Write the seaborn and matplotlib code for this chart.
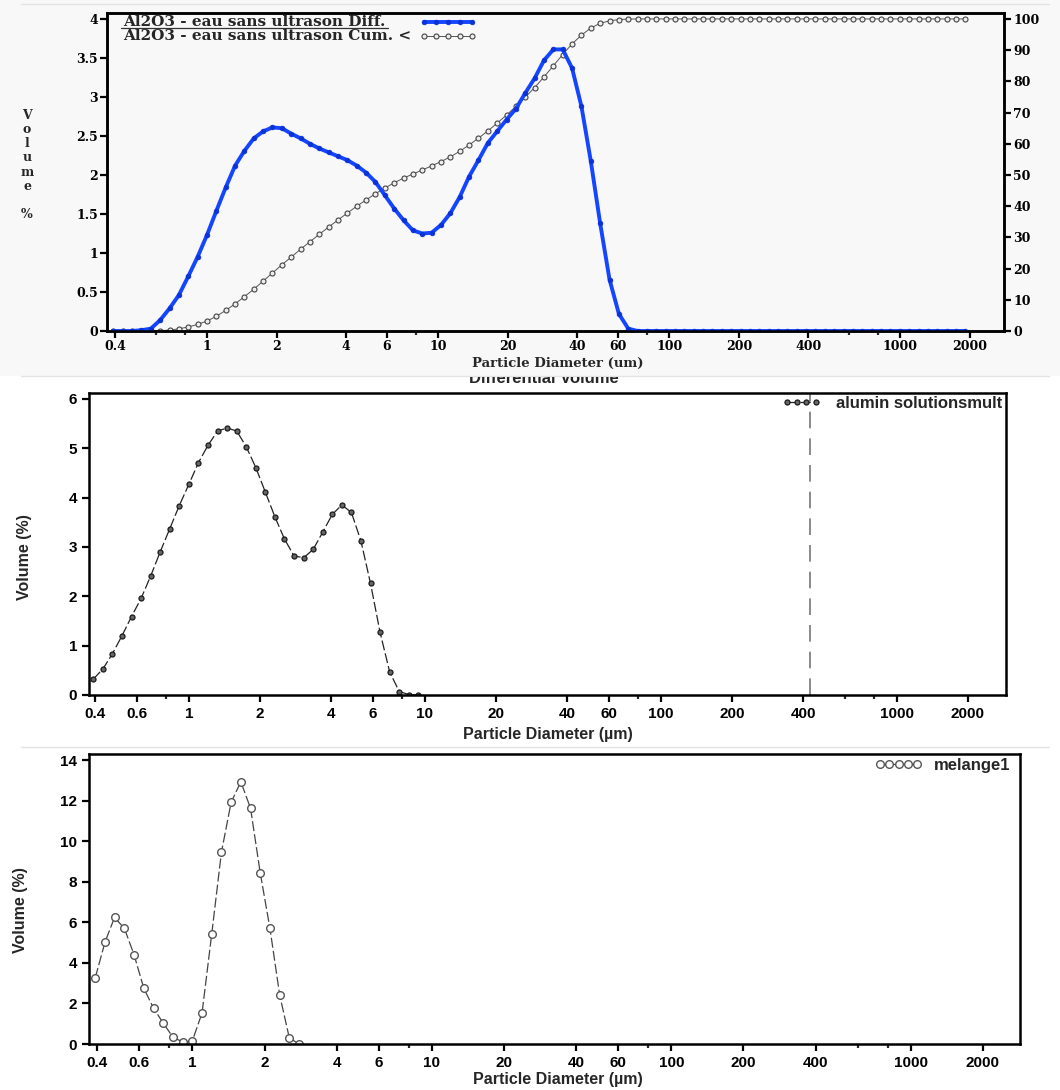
import matplotlib
matplotlib.use("Agg")
import matplotlib.pyplot as plt
import seaborn as sns
from matplotlib.ticker import FixedLocator, FixedFormatter, NullFormatter
from matplotlib.lines import Line2D
from matplotlib.patches import Rectangle
from matplotlib.transforms import Bbox, TransformedBbox

# channel centre diameters (um)
diameter = [0.393, 0.432, 0.473, 0.520, 0.571, 0.627, 0.688, 0.755, 0.829, 0.910,
            0.999, 1.097, 1.204, 1.322, 1.451, 1.593, 1.749, 1.919, 2.107, 2.313,
            2.539, 2.787, 3.060, 3.359, 3.687, 4.048, 4.444, 4.878, 5.355, 5.879,
            6.453, 7.084, 7.777, 8.537, 9.371, 10.29, 11.29, 12.40, 13.61, 14.94,
            16.40, 18.00, 19.76, 21.70, 23.81, 26.14, 28.70, 31.51, 34.59, 37.97,
            41.68, 45.75, 50.23, 55.14, 60.53, 66.45, 72.95, 80.08, 87.90, 96.50,
            105.9, 116.3, 127.6, 140.1, 153.8, 168.9, 185.3, 203.5, 223.4, 245.2,
            269.2, 295.5, 324.4, 356.1, 390.9, 429.2, 471.1, 517.2, 567.8, 623.3,
            684.2, 751.1, 824.5, 905.1, 993.6, 1091, 1198, 1315, 1443, 1584,
            1739, 1909]

# Al2O3 - eau sans ultrason, differential volume (%)
diff_al2o3 = [0, 0, 0, 0.01, 0.03, 0.14, 0.29, 0.46, 0.70, 0.95,
              1.23, 1.54, 1.84, 2.12, 2.31, 2.47, 2.56, 2.61, 2.60, 2.53,
              2.47, 2.40, 2.34, 2.29, 2.24, 2.19, 2.12, 2.03, 1.91, 1.74,
              1.57, 1.42, 1.29, 1.25, 1.26, 1.36, 1.51, 1.72, 1.98, 2.19,
              2.41, 2.56, 2.71, 2.85, 3.05, 3.24, 3.47, 3.61, 3.61, 3.37,
              2.88, 2.18, 1.38, 0.66, 0.22, 0.03, 0, 0, 0, 0,
              0, 0, 0, 0, 0, 0, 0, 0, 0, 0,
              0, 0, 0, 0, 0, 0, 0, 0, 0, 0,
              0, 0, 0, 0, 0, 0, 0, 0, 0, 0,
              0, 0]

# Al2O3 - eau sans ultrason, cumulative volume < (%)
cum_al2o3 = [0, 0, 0, 0, 0.02, 0.1, 0.3, 0.7, 1.3, 2.1,
             3.2, 4.7, 6.6, 8.7, 11.0, 13.4, 16.0, 18.6, 21.2, 23.7,
             26.2, 28.6, 31.0, 33.3, 35.6, 37.8, 40.0, 42.0, 44.0, 45.8,
             47.5, 49.0, 50.3, 51.6, 52.9, 54.3, 55.8, 57.6, 59.6, 61.8,
             64.1, 66.6, 69.2, 72.0, 74.9, 78.0, 81.4, 85.0, 88.6, 92.0,
             94.8, 97.1, 98.6, 99.4, 99.8, 99.95, 100, 100, 100, 100,
             100, 100, 100, 100, 100, 100, 100, 100, 100, 100,
             100, 100, 100, 100, 100, 100, 100, 100, 100, 100,
             100, 100, 100, 100, 100, 100, 100, 100, 100, 100,
             100, 100]

# alumin solutionsmult, differential volume (%)
alumin_mult = [0.32, 0.53, 0.83, 1.20, 1.59, 1.96, 2.41, 2.90, 3.37, 3.84,
               4.27, 4.71, 5.06, 5.35, 5.41, 5.35, 5.03, 4.61, 4.11, 3.61,
               3.16, 2.82, 2.78, 2.95, 3.30, 3.66, 3.85, 3.70, 3.12, 2.26,
               1.27, 0.47, 0.07, 0.01, 0.0]
cursor_um = 430

# melange1, differential volume (%)
melange1 = [3.27, 5.04, 6.24, 5.70, 4.39, 2.74, 1.77, 1.03, 0.34, 0.10,
            0.15, 1.53, 5.42, 9.46, 11.92, 12.93, 11.62, 8.44, 5.71, 2.43,
            0.30, 0.0]

label_diff = "Al2O3 - eau sans ultrason Diff."
label_cum = "Al2O3 - eau sans ultrason Cum. <"
label_alumin = "alumin solutionsmult"
label_melange = "melange1"

top_xticks = [0.4, 1, 2, 4, 6, 10, 20, 40, 60, 100, 200, 400, 1000, 2000]
top_xlabels = ["0.4", "1", "2", "4", "6", "10", "20", "40", "60", "100", "200", "400", "1000", "2000"]
top_minor = [0.6, 0.8, 8, 80, 600, 800]
top_left_ticks = [0, 0.5, 1, 1.5, 2, 2.5, 3, 3.5, 4]
top_left_labels = ["0", "0.5", "1", "1.5", "2", "2.5", "3", "3.5", "4"]
top_right_ticks = [0, 10, 20, 30, 40, 50, 60, 70, 80, 90, 100]

low_xticks = [0.4, 0.6, 1, 2, 4, 6, 10, 20, 40, 60, 100, 200, 400, 1000, 2000]
low_xlabels = ["0.4", "0.6", "1", "2", "4", "6", "10", "20", "40", "60", "100", "200", "400", "1000", "2000"]
low_minor = [0.8, 8, 80, 600, 800]

W, H = 1060, 1090
SERIF = ["DejaVu Serif"]
SANS = ["Liberation Sans", "DejaVu Sans"]
BLUE = "#1446ff"


def px_rect(l, t, r, b):
    return [l / W, 1 - b / H, (r - l) / W, (b - t) / H]


def fx(x):
    return x / W


def fy(y):
    return 1 - y / H


sns.set_style("ticks")
plt.rcParams["font.weight"] = "bold"
plt.rcParams["axes.linewidth"] = 1.8

fig = plt.figure(figsize=(W / 100, H / 100), dpi=100)

# screenshot-like bands
fig.patches.append(Rectangle((0, fy(376)), 1, 376 / H, transform=fig.transFigure,
                             facecolor="#f8f8f8", edgecolor="none", zorder=-5))
for yy in (4, 376, 747):
    fig.add_artist(Line2D([0.02, 0.99], [fy(yy)] * 2, transform=fig.transFigure,
                          color="#e3e3e3", lw=1.0, zorder=-4))


def set_xaxis(ax, ticks, labels, minor, family, size, pad):
    ax.xaxis.set_major_locator(FixedLocator(ticks))
    ax.xaxis.set_major_formatter(FixedFormatter(labels))
    ax.xaxis.set_minor_locator(FixedLocator(minor))
    ax.xaxis.set_minor_formatter(NullFormatter())
    ax.tick_params(which="major", direction="out", length=5, width=1.6, pad=pad,
                   labelsize=size, labelfontfamily=family, colors="black")
    ax.tick_params(which="minor", direction="out", length=3, width=1.6)
    for s in ax.spines.values():
        s.set_visible(True)
        s.set_linewidth(1.8)
        s.set_color("black")


# ---- panel 1 : Al2O3 diff + cum ----
ax1 = fig.add_axes(px_rect(107, 13, 1004, 331))
ax1.set_xscale("log")
ax1r = ax1.twinx()
ax1r.set_xscale("log")
ax1.set_zorder(ax1r.get_zorder() + 1)
ax1.patch.set_visible(False)
ax1r.patch.set_visible(False)

cum_style = dict(color="#555555", lw=0.7, marker="o", markersize=3.6,
                 markerfacecolor="#eeeeee", markeredgecolor="#444444",
                 markeredgewidth=0.8)
diff_style = dict(color=BLUE, lw=2.8, marker="o", markersize=3.4,
                  markerfacecolor="#0a32d6", markeredgecolor="#0a32d6",
                  markeredgewidth=0.5)
sns.lineplot(x=diameter, y=cum_al2o3, ax=ax1r, estimator=None, sort=False, **cum_style)
sns.lineplot(x=diameter, y=diff_al2o3, ax=ax1, estimator=None, sort=False, **diff_style)

ax1.set_xlim(0.369, 2808)
ax1.set_ylim(0, 4.077)
ax1r.set_ylim(0, 101.9)
set_xaxis(ax1, top_xticks, top_xlabels, top_minor, SERIF, 9, 1.5)
set_xaxis(ax1r, top_xticks, top_xlabels, top_minor, SERIF, 9, 1.5)
ax1.set_yticks(top_left_ticks, top_left_labels)
ax1r.set_yticks(top_right_ticks, [str(v) for v in top_right_ticks])
ax1.set_xlabel("Particle Diameter (um)", family=SERIF, size=9.5, weight="bold")
ax1.xaxis.set_label_coords(0.503, (331 - 363) / 318)
ax1.xaxis.label.set_va("center")
ax1.set_ylabel("")
ax1r.set_ylabel("")

fig.text(fx(27), fy(165), "V\no\nl\nu\nm\ne\n\n%", ha="center", va="center",
         family=SERIF, size=9, weight="bold", linespacing=1.12)

# legend of panel 1: labels left-aligned, samples right
leg_font = dict(family=SERIF, weight="bold", size=11)
t_diff = fig.text(fx(123), fy(22), label_diff, ha="left", va="center", **leg_font)
t_cum = fig.text(fx(123), fy(36), label_cum, ha="left", va="center", **leg_font)
sample_x = [fx(v) for v in (424, 436, 448, 460, 472)]
fig.add_artist(Line2D(sample_x, [fy(22)] * 5, transform=fig.transFigure, **diff_style))
fig.add_artist(Line2D(sample_x, [fy(36)] * 5, transform=fig.transFigure, **cum_style))

# ---- panel 2 : alumin solutionsmult ----
ax2 = fig.add_axes(px_rect(89, 393, 1006, 695))
ax2.set_xscale("log")
sns.lineplot(x=diameter[:len(alumin_mult)], y=alumin_mult, ax=ax2, color="#222222",
             lw=0.9, linestyle=(0, (8, 2.5)), marker="o", markersize=3.6,
             markerfacecolor="#666666", markeredgecolor="#1a1a1a",
             markeredgewidth=0.9, estimator=None, sort=False)
line2 = ax2.lines[0]
ax2.axvline(cursor_um, color="#777777", lw=1.2, linestyle=(0, (10, 6)), zorder=1)
ax2.set_xlim(0.377, 2898)
ax2.set_ylim(0, 6.12)
set_xaxis(ax2, low_xticks, low_xlabels, low_minor, SANS, 11, 3.5)
ax2.set_yticks(range(0, 7))
ax2.set_xlabel("Particle Diameter (\u00b5m)", family=SANS, size=11.5, weight="bold")
ax2.set_ylabel("Volume (%)", family=SANS, size=11.5, weight="bold")
ax2.xaxis.set_label_coords(0.5, -0.132)
ax2.xaxis.label.set_va("center")
ax2.yaxis.set_label_coords(-0.07, 0.457)
ax2.yaxis.label.set_va("center")
ax2.legend([line2], [label_alumin], loc="upper right",
           bbox_to_anchor=(fx(1002), fy(396)), bbox_transform=fig.transFigure,
           numpoints=4, handlelength=2.3, handletextpad=0.9, frameon=False,
           borderpad=0, borderaxespad=0,
           prop=dict(family=SANS, weight="bold", size=12))

title = fig.text(fx(544), fy(379), "Differential Volume", ha="center", va="center",
                 family=SANS, size=12, weight="bold")
title.set_clip_box(TransformedBbox(Bbox([[0, 0], [1, fy(377)]]), fig.transFigure))
title.set_clip_on(True)

# ---- panel 3 : melange1 ----
ax3 = fig.add_axes(px_rect(89, 754, 1020, 1044))
ax3.set_xscale("log")
sns.lineplot(x=diameter[:len(melange1)], y=melange1, ax=ax3, color="#444444",
             lw=0.9, linestyle=(0, (8, 2.5)), marker="o", markersize=5.5,
             markerfacecolor="white", markeredgecolor="#555555",
             markeredgewidth=1.0, estimator=None, sort=False)
line3 = ax3.lines[0]
ax3.set_xlim(0.370, 2855)
ax3.set_ylim(0, 14.3)
set_xaxis(ax3, low_xticks, low_xlabels, low_minor, SANS, 11, 3.5)
ax3.set_yticks(range(0, 15, 2))
ax3.set_xlabel("Particle Diameter (\u00b5m)", family=SANS, size=11.5, weight="bold")
ax3.set_ylabel("Volume (%)", family=SANS, size=11.5, weight="bold")
ax3.xaxis.set_label_coords(0.504, -0.124)
ax3.xaxis.label.set_va("center")
ax3.yaxis.set_label_coords(-0.074, 0.462)
ax3.yaxis.label.set_va("center")
ax3.legend([line3], [label_melange], loc="upper right",
           bbox_to_anchor=(fx(1010), fy(758)), bbox_transform=fig.transFigure,
           numpoints=5, handlelength=2.8, handletextpad=0.7, frameon=False,
           borderpad=0, borderaxespad=0,
           prop=dict(family=SANS, weight="bold", size=12))

# underline the first legend entry of panel 1
fig.canvas.draw()
bb = t_diff.get_window_extent()
inv = fig.transFigure.inverted()
(x0, y0), (x1, _) = inv.transform([(bb.x0 - 2, bb.y0 + 1), (bb.x1 + 3, bb.y0 + 1)])
fig.add_artist(Line2D([x0, x1], [y0, y0], transform=fig.transFigure, color="#333333", lw=0.9))

fig.savefig("out.png", dpi=100)
